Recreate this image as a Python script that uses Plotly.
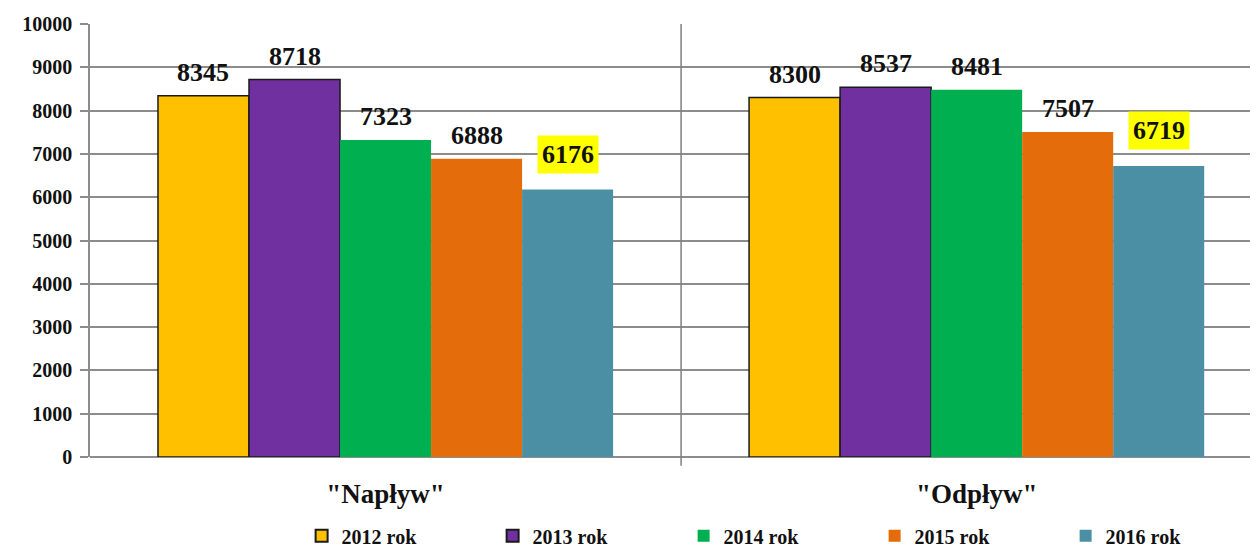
import plotly.graph_objects as go

categories = ['"Napływ"', '"Odpływ"']
years = ["2012 rok", "2013 rok", "2014 rok", "2015 rok", "2016 rok"]
values = {
    "2012 rok": [8345, 8300],
    "2013 rok": [8718, 8537],
    "2014 rok": [7323, 8481],
    "2015 rok": [6888, 7507],
    "2016 rok": [6176, 6719],
}
colors = ["#FFC000", "#7030A0", "#00B050", "#E46C0A", "#4B8FA5"]
outlined = ["2012 rok", "2013 rok"]
highlight = "2016 rok"
y_ticks = list(range(0, 10001, 1000))
y_ticktext = [str(v) for v in y_ticks]

FONT = "Liberation Serif"
bargap = 0.23
n = len(years)
bw = (1 - bargap) / n

fig = go.Figure()
annotations = []
for i, (yr, col) in enumerate(zip(years, colors)):
    is_hl = yr == highlight
    fig.add_trace(go.Bar(
        name=yr, x=categories, y=values[yr],
        marker=dict(color=col,
                    line=dict(color="#1a1a1a" if yr in outlined else col,
                              width=1.5 if yr in outlined else 0)),
    ))
    offset = (i - (n - 1) / 2) * bw
    for ci, v in enumerate(values[yr]):
        annotations.append(dict(
            x=ci + offset, y=v, xref="x", yref="y",
            text=str(v), showarrow=False, yanchor="bottom",
            yshift=16 if is_hl else 8,
            font=dict(family=FONT, size=26, color="#111111", weight="bold"),
            bgcolor="#FFFF00" if is_hl else None,
            borderpad=4 if is_hl else 0,
        ))

shapes = [dict(type="line", xref="x", yref="paper", x0=0.5, x1=0.5, y0=-0.02, y1=1,
               line=dict(color="#808080", width=1.5))]

fig.update_layout(
    width=1258, height=546,
    margin=dict(l=82, r=8, t=16, b=97, autoexpand=False),
    paper_bgcolor="white", plot_bgcolor="white",
    barmode="group", bargap=bargap, bargroupgap=0,
    showlegend=True,
    legend=dict(orientation="h", x=0.59, xanchor="center", y=-0.182, yanchor="middle",
                font=dict(family=FONT, size=20, color="#111111", weight="bold"),
                itemwidth=30, tracegroupgap=0, entrywidth=146, itemsizing="constant"),
    annotations=annotations,
    shapes=shapes,
    xaxis=dict(range=[-0.5, 1.476], showgrid=False, ticks="",
               tickfont=dict(family=FONT, size=27, color="#111111", weight="bold"),
               showline=False, zeroline=False, ticklabelstandoff=18),
    yaxis=dict(range=[0, 10000], tickvals=y_ticks, ticktext=y_ticktext, showgrid=True,
               gridcolor="#8c8c8c", gridwidth=1.5,
               ticks="outside", ticklen=8, tickcolor="#8c8c8c", tickwidth=1.5,
               showline=True, linecolor="#8c8c8c", linewidth=1.5,
               zeroline=True, zerolinecolor="#8c8c8c", zerolinewidth=1.5,
               tickfont=dict(family=FONT, size=20, color="#111111", weight="bold"),
               ticklabelstandoff=4),
)

fig.write_html("out.html")
